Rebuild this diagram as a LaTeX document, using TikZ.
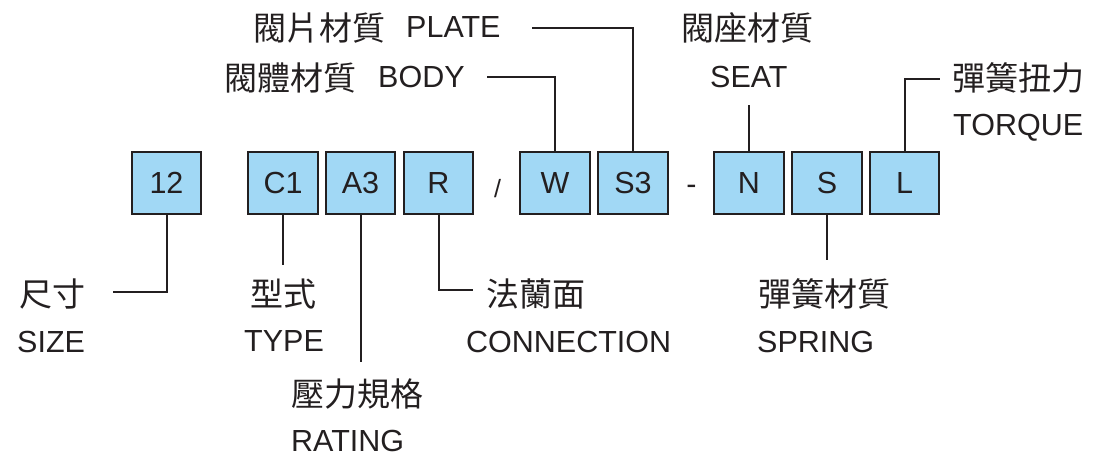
\documentclass[tikz,border=0pt]{standalone}
\usepackage{fontspec}
\setmainfont{Liberation Sans}
\newfontfamily\cjk{Noto Sans CJK TC}
\definecolor{txt}{RGB}{35,31,32}
\definecolor{boxblue}{RGB}{161,216,245}
\tikzset{
  codebox/.style={draw=txt, line width=2.4pt, fill=boxblue, minimum width=69.5pt, minimum height=62pt, inner sep=0pt, font=\fontsize{30.5}{36}\selectfont, text=txt},
  lat/.style={inner sep=0pt, anchor=west, font=\fontsize{30.5}{36}\selectfont, text=txt},
  cj/.style={inner sep=0pt, anchor=west, font=\cjk\fontsize{33}{38}\selectfont, text=txt},
  conn/.style={draw=txt, line width=2pt}
}
\begin{document}
\begin{tikzpicture}[x=1pt,y=-1pt]
\useasboundingbox (0,0) rectangle (1094,455);
% boxes
\node[codebox] (b12) at (166.5,183) {12};
\node[codebox] (bC1) at (283,183) {C1};
\node[codebox] (bA3) at (360.5,183) {A3};
\node[codebox] (bR) at (438.5,183) {R};
\node[lat, anchor=center, font=\fontsize{25}{28}\selectfont] (slash) at (497.5,189) {/};
\node[codebox] (bW) at (555,183) {W};
\node[codebox] (bS3) at (633,183) {S3};
\node[lat, anchor=center] (dash) at (691.5,189.5) {-};
\node[codebox] (bN) at (749,183) {N};
\node[codebox] (bS) at (827,183) {S};
\node[codebox] (bL) at (904.5,183) {L};
% top labels
\node[cj] (tplate) at (253,28) {閥片材質};
\node[lat] (lplate) at (406,27) {PLATE};
\node[cj] (tbody) at (224,78) {閥體材質};
\node[lat] (lbody) at (378,77) {BODY};
\node[cj] (tseat) at (681,28) {閥座材質};
\node[lat] (lseat) at (710,76.5) {SEAT};
\node[cj] (ttorque) at (952,77.5) {彈簧扭力};
\node[lat] (ltorque) at (953,127.5) {TORQUE};
% bottom labels
\node[cj] (tsize) at (19,293.7) {尺寸};
\node[lat] (lsize) at (17,341.5) {SIZE};
\node[cj] (ttype) at (250,293.7) {型式};
\node[lat] (ltype) at (244,341.5) {TYPE};
\node[cj] (trating) at (291,394) {壓力規格};
\node[lat] (lrating) at (291,441) {RATING};
\node[cj] (tconn) at (486,293.7) {法蘭面};
\node[lat] (lconn) at (466,341.5) {CONNECTION};
\node[cj] (tspring) at (758,293.7) {彈簧材質};
\node[lat] (lspring) at (757,341.5) {SPRING};
% connector ends
\coordinate (e12) at (113,292);
\coordinate (eC1) at (283,265);
\coordinate (eA3) at (360.5,362);
\coordinate (eR) at (473,290);
\coordinate (eS) at (827,260);
\coordinate (eW) at (487,77);
\coordinate (eS3) at (532,28);
\coordinate (eN) at (749,105);
\coordinate (eL) at (940,79);
% connectors
\draw[conn] (b12.south) |- (e12);
\draw[conn] (bC1.south) -- (eC1);
\draw[conn] (bA3.south) -- (eA3);
\draw[conn] (bR.south) |- (eR);
\draw[conn] (bS.south) -- (eS);
\draw[conn] (bW.north) |- (eW);
\draw[conn] (bS3.north) |- (eS3);
\draw[conn] (bN.north) -- (eN);
\draw[conn] (bL.north) |- (eL);
\end{tikzpicture}
\end{document}
